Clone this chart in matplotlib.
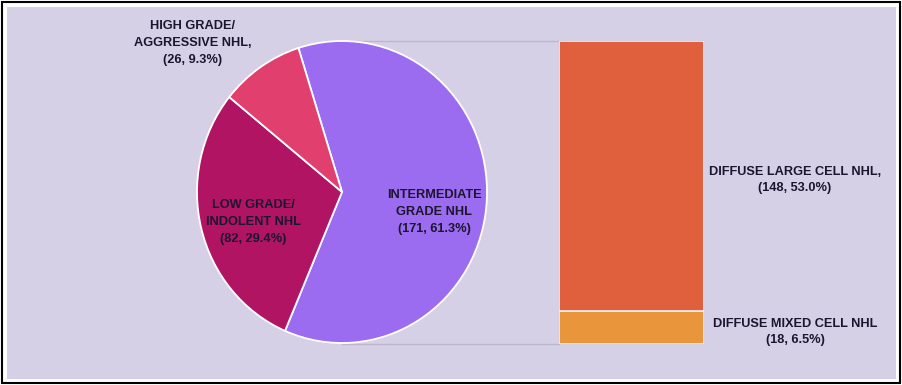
import matplotlib
matplotlib.use("Agg")
import matplotlib.pyplot as plt
from matplotlib.patches import Rectangle
from matplotlib.lines import Line2D

# data
pie_labels = ["INTERMEDIATE\nGRADE NHL", "LOW GRADE/\nINDOLENT NHL", "HIGH GRADE/\nAGGRESSIVE NHL,"]
pie_values = [171, 82, 26]
pie_colors = ["#9c6cf0", "#b01462", "#e13f6e"]

bar_labels = ["DIFFUSE MIXED CELL NHL", "DIFFUSE LARGE CELL NHL,"]
bar_values = [18, 148]
bar_colors = ["#e8953b", "#e05f3c"]

W, H = 902, 385
plt.rcParams['font.family'] = ['Liberation Sans', 'DejaVu Sans']
txt_col = "#1b1530"

fig = plt.figure(figsize=(W / 100, H / 100), dpi=100)
fig.patch.set_facecolor("white")

def fx(px):
    return px / W

def fy(py):
    return 1 - py / H

# frame + lavender panel
fig.patches.append(Rectangle((fx(1.5), fy(383)), fx(898), 381.5 / H, transform=fig.transFigure,
                             facecolor="none", edgecolor="black", lw=1.5, zorder=-3))
fig.patches.append(Rectangle((fx(7), fy(379)), fx(889), 372 / H, transform=fig.transFigure,
                             facecolor="#d6d0e6", edgecolor="none", zorder=-4))

total = sum(pie_values)

# pie (slightly taller than wide, like the reference)
cx, cy, rx, ry = 342, 192, 145, 151
ax_pie = fig.add_axes([fx(cx - rx), fy(cy + ry), fx(2 * rx), 2 * ry / H])
ax_pie.pie(pie_values, colors=pie_colors, startangle=107.5, counterclock=False,
           wedgeprops=dict(edgecolor="white", linewidth=1.3))
ax_pie.set_aspect("auto")
ax_pie.set_xlim(-1, 1)
ax_pie.set_ylim(-1, 1)
ax_pie.axis("off")

# bar
bx0, bx1, by0, by1 = 559, 704, 41, 344
ax_bar = fig.add_axes([fx(bx0), fy(by1), fx(bx1 - bx0), (by1 - by0) / H])
bottom = 0
for v, c in zip(bar_values, bar_colors):
    ax_bar.bar(0, v, bottom=bottom, width=1, color=c, edgecolor="#f4eef0", linewidth=1.2)
    bottom += v
ax_bar.set_xlim(-0.5, 0.5)
ax_bar.set_ylim(0, sum(bar_values))
ax_bar.axis("off")

# connector lines (behind the pie)
for py in (by0, by1):
    fig.lines.append(Line2D([fx(cx), fx(bx0)], [fy(py), fy(py)], transform=fig.transFigure,
                            color="#bdb8c8", lw=1, zorder=-1))

# labels
def pct(v, t):
    return f"({v}, {v / t * 100:.1f}%)"

fs = 9.2
kw = dict(ha="center", va="center", fontsize=fs, fontweight="bold", color=txt_col,
          linespacing=1.55, transform=fig.transFigure)
fig.text(fx(434), fy(212), pie_labels[0] + "\n" + pct(pie_values[0], total), **kw)
fig.text(fx(253), fy(222), pie_labels[1] + "\n" + pct(pie_values[1], total), **kw)
fig.text(fx(193), fy(43), pie_labels[2] + "\n" + pct(pie_values[2], total), **kw)
fig.text(fx(795), fy(180), bar_labels[1] + "\n" + pct(bar_values[1], total), **kw)
fig.text(fx(795), fy(332), bar_labels[0] + "\n" + pct(bar_values[0], total), **kw)

fig.savefig("out.png", dpi=100)
